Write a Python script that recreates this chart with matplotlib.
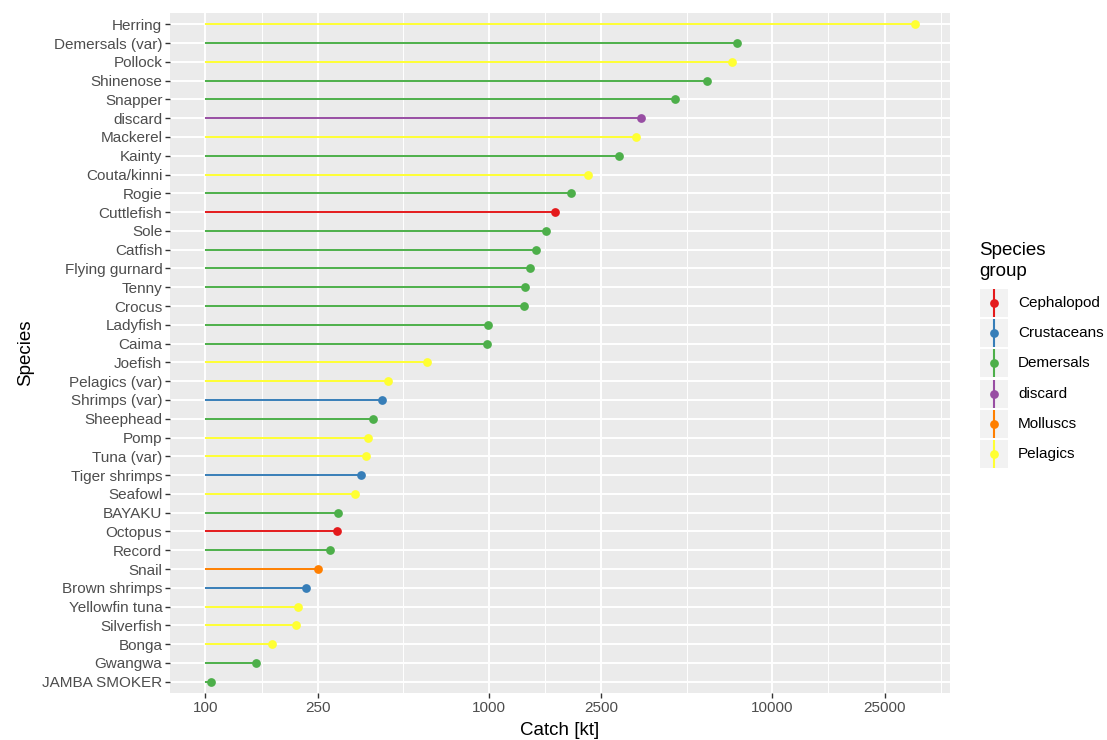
import matplotlib
matplotlib.use("Agg")
import matplotlib.pyplot as plt
from matplotlib.patches import Rectangle
import numpy as np

plt.rcParams['font.family'] = ['Liberation Sans', 'DejaVu Sans']

# species, top to bottom, with catch (kt) and group
species = ['Herring', 'Demersals (var)', 'Pollock', 'Shinenose', 'Snapper', 'discard',
           'Mackerel', 'Kainty', 'Couta/kinni', 'Rogie', 'Cuttlefish', 'Sole', 'Catfish',
           'Flying gurnard', 'Tenny', 'Crocus', 'Ladyfish', 'Caima', 'Joefish',
           'Pelagics (var)', 'Shrimps (var)', 'Sheephead', 'Pomp', 'Tuna (var)',
           'Tiger shrimps', 'Seafowl', 'BAYAKU', 'Octopus', 'Record', 'Snail',
           'Brown shrimps', 'Yellowfin tuna', 'Silverfish', 'Bonga', 'Gwangwa', 'JAMBA SMOKER']
catch = [31900, 7530, 7230, 5900, 4550, 3450,
         3310, 2885, 2245, 1955, 1715, 1595, 1470,
         1400, 1345, 1335, 996, 988, 607,
         442, 421, 391, 376, 370,
         355, 338, 294, 292, 276, 250,
         227, 213, 208, 172, 151, 105]
group = ['Pelagics', 'Demersals', 'Pelagics', 'Demersals', 'Demersals', 'discard',
         'Pelagics', 'Demersals', 'Pelagics', 'Demersals', 'Cephalopod', 'Demersals', 'Demersals',
         'Demersals', 'Demersals', 'Demersals', 'Demersals', 'Demersals', 'Pelagics',
         'Pelagics', 'Crustaceans', 'Demersals', 'Pelagics', 'Pelagics',
         'Crustaceans', 'Pelagics', 'Demersals', 'Cephalopod', 'Demersals', 'Molluscs',
         'Crustaceans', 'Pelagics', 'Pelagics', 'Pelagics', 'Demersals', 'Demersals']
base = 100

groups = ['Cephalopod', 'Crustaceans', 'Demersals', 'discard', 'Molluscs', 'Pelagics']
palette = ['#E41A1C', '#377EB8', '#4DAF4A', '#984EA3', '#FF7F00', '#FFFF33']
colors = dict(zip(groups, palette))

x_breaks = [100, 250, 1000, 2500, 10000, 25000]

fig = plt.figure(figsize=(11.07, 7.4), dpi=100)
ax = fig.add_axes([170 / 1107, 1 - 693 / 740, 780 / 1107, 680 / 740])
ax.set_facecolor('#EBEBEB')

n = len(species)
ypos = np.arange(n)[::-1]

# grid
lb = np.log10(x_breaks)
minor = list((lb[:-1] + lb[1:]) / 2) + [lb[-1] + (lb[-1] - lb[-2]) / 2]
for m in minor:
    ax.axvline(10 ** m, color='white', lw=0.7, zorder=0)
for b in x_breaks:
    ax.axvline(b, color='white', lw=1.4, zorder=0)
for y in ypos:
    ax.axhline(y, color='white', lw=1.4, zorder=0)

for y, c, g in zip(ypos, catch, group):
    ax.plot([base, c], [y, y], color=colors[g], lw=1.4, solid_capstyle='butt', zorder=2)
    ax.plot(c, y, 'o', color=colors[g], ms=6.3, mew=0, zorder=3)

ax.set_xscale('log')
lo, hi = np.log10(base), np.log10(max(catch))
pad = (hi - lo) * 0.05
ax.set_xlim(10 ** (lo - pad), 10 ** (hi + pad))
ax.set_ylim(-0.6, n - 0.4)
ax.set_xticks(x_breaks)
ax.set_xticklabels([str(b) for b in x_breaks])
ax.xaxis.set_minor_locator(matplotlib.ticker.NullLocator())
ax.set_yticks(ypos)
ax.set_yticklabels(species)
ax.tick_params(axis='both', colors='#333333', labelcolor='#4D4D4D', labelsize=11,
               length=3.5, width=1, pad=2)
for s in ax.spines.values():
    s.set_visible(False)
ax.set_xlabel('Catch [kt]', fontsize=13.5, labelpad=5)
ax.set_ylabel('Species', fontsize=13.5, labelpad=6)

# legend drawn in pixel coordinates
lax = fig.add_axes([0, 0, 1, 1], facecolor='none')
lax.set_xlim(0, 1107)
lax.set_ylim(740, 0)
lax.axis('off')
lax.text(979, 261, 'Species\ngroup', fontsize=13.5, va='center', ha='left', linespacing=1.25)
for i, g in enumerate(groups):
    cy = 303 + i * 30.2
    lax.add_patch(Rectangle((980, cy - 14), 28, 28, facecolor='#F2F2F2', edgecolor='none'))
    lax.plot([994, 994], [cy - 14, cy + 14], color=colors[g], lw=1.5, solid_capstyle='butt')
    lax.plot(994, cy, 'o', color=colors[g], ms=6.3, mew=0)
    lax.text(1018, cy, g, fontsize=11, va='center', ha='left')

fig.savefig('out.png', dpi=100)
